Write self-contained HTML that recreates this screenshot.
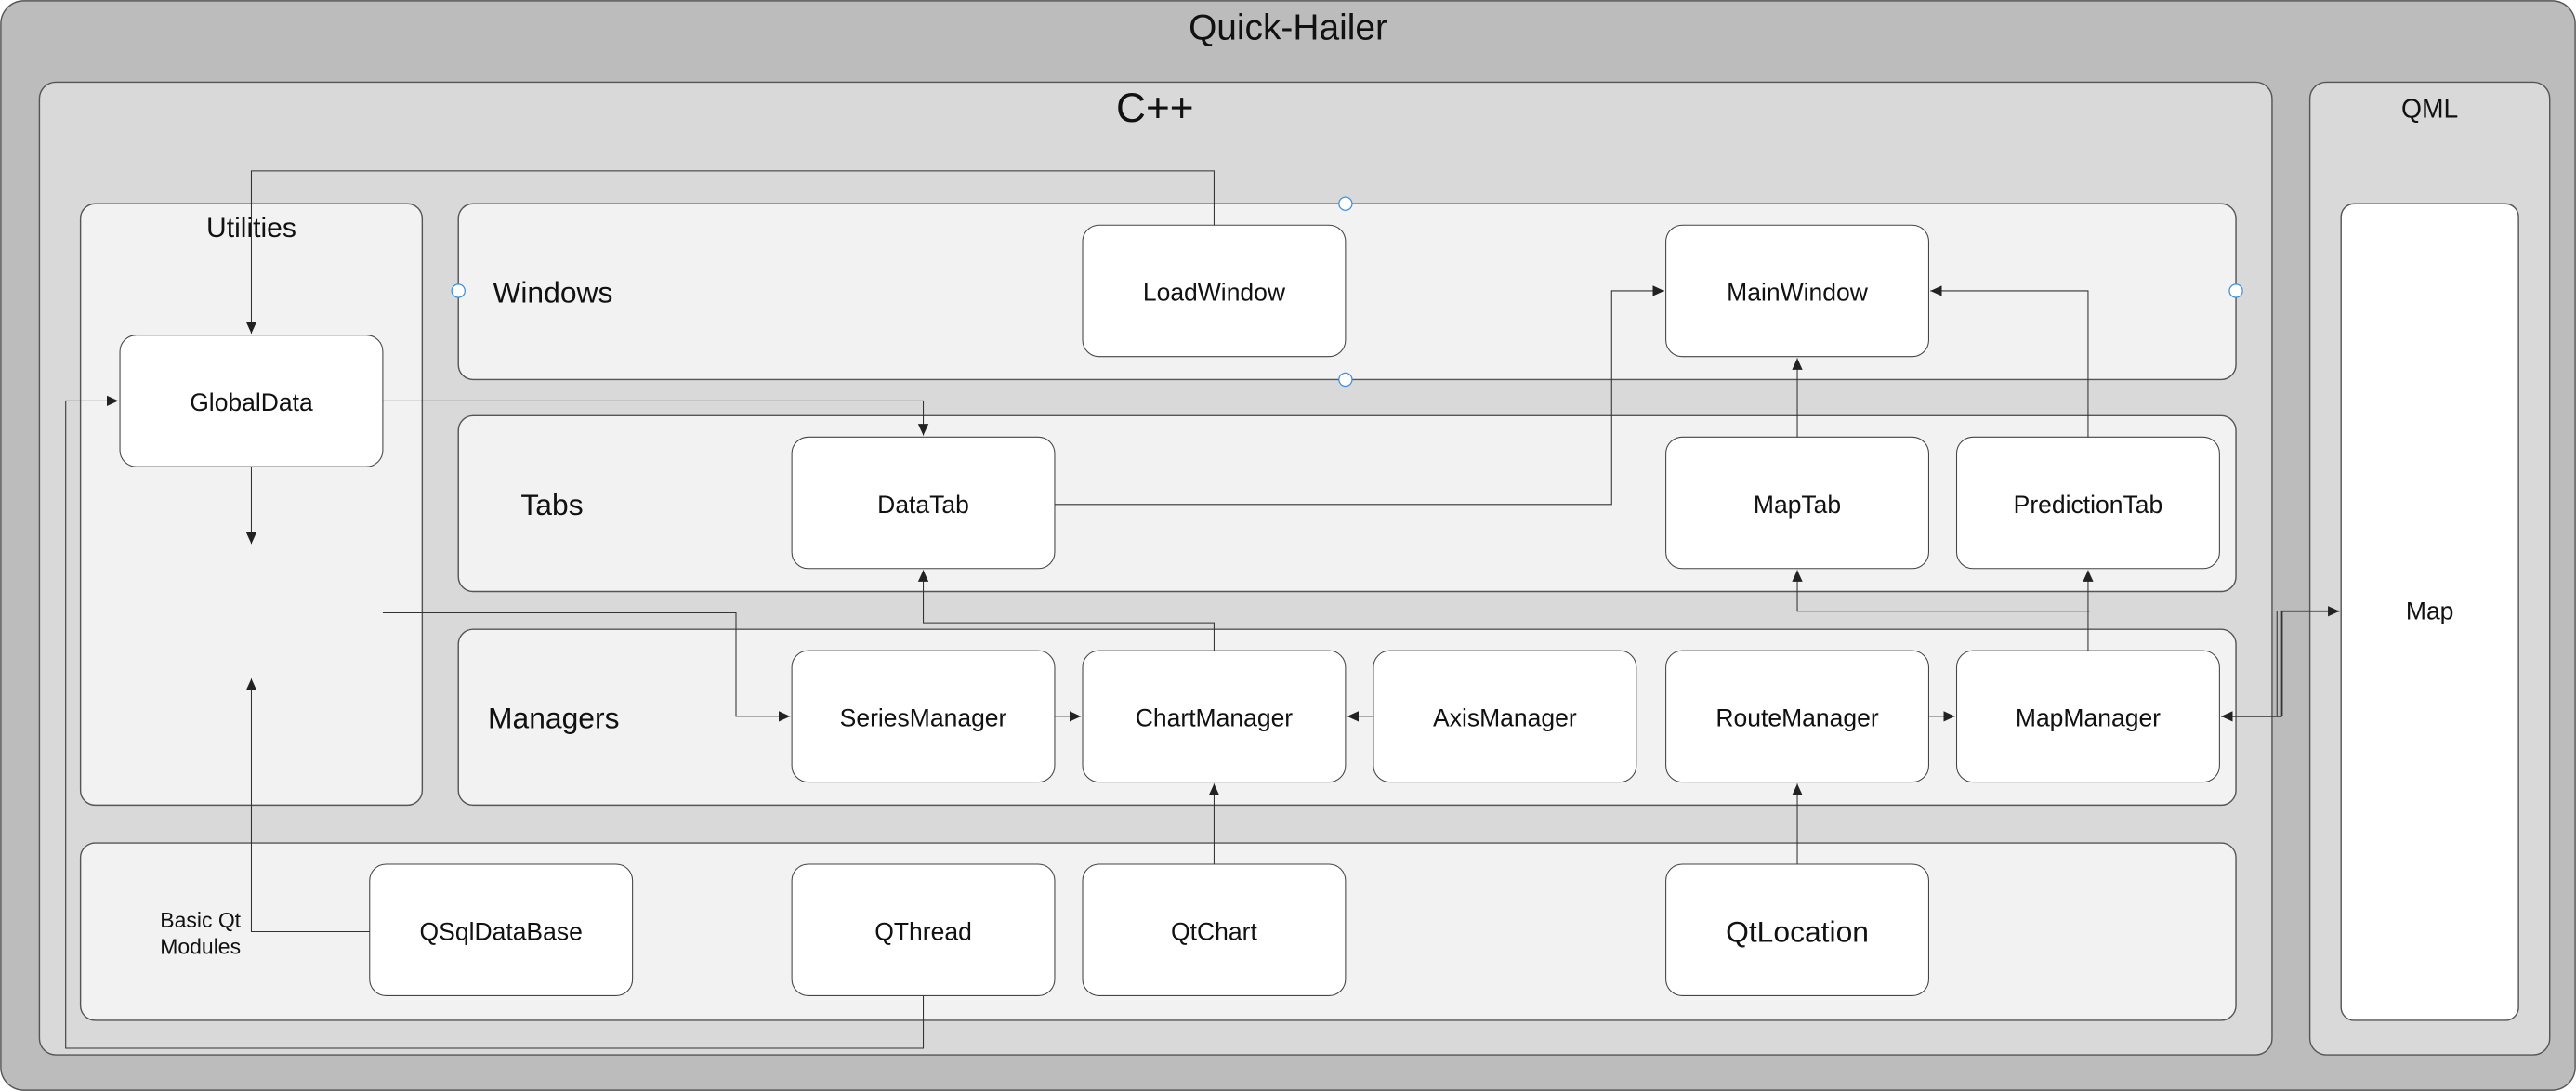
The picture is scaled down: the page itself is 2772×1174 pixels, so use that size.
<!DOCTYPE html>
<html><head><meta charset="utf-8"><style>
html,body{margin:0;padding:0;background:#fff;}
svg{display:block;}
text{font-family:"Liberation Sans",sans-serif;fill:#111;}
</style></head><body>
<svg width="2772" height="1174" viewBox="0 0 1568 664" preserveAspectRatio="none" xmlns="http://www.w3.org/2000/svg">
<defs>
<marker id="a" markerWidth="8" markerHeight="8" refX="7" refY="4" orient="auto" markerUnits="userSpaceOnUse">
<path d="M0,0.8 L7,4 L0,7.2 Z" fill="#222"/></marker>
</defs>
<g stroke="#555" stroke-width="0.8">
<rect x="0.5" y="0.5" width="1567" height="663" rx="14" fill="#bcbcbc"/>
<rect x="24" y="50" width="1359" height="592" rx="10" fill="#d9d9d9"/>
<rect x="1406" y="50" width="146" height="592" rx="10" fill="#d9d9d9"/>
<rect x="1425" y="124" width="108" height="497" rx="8" fill="#fff"/>
<rect x="49" y="124" width="208" height="366" rx="9" fill="#f2f2f2"/>
<rect x="279" y="124" width="1082" height="107" rx="9" fill="#f2f2f2"/>
<rect x="279" y="253" width="1082" height="107" rx="9" fill="#f2f2f2"/>
<rect x="279" y="383" width="1082" height="107" rx="9" fill="#f2f2f2"/>
<rect x="49" y="513" width="1312" height="108" rx="9" fill="#f2f2f2"/>
</g>
<g stroke="#444" stroke-width="0.6" fill="#fff">
<rect x="659" y="137" width="160" height="80" rx="10"/>
<rect x="1014" y="137" width="160" height="80" rx="10"/>
<rect x="73" y="204" width="160" height="80" rx="10"/>
<rect x="482" y="266" width="160" height="80" rx="10"/>
<rect x="1014" y="266" width="160" height="80" rx="10"/>
<rect x="1191" y="266" width="160" height="80" rx="10"/>
<rect x="482" y="396" width="160" height="80" rx="10"/>
<rect x="659" y="396" width="160" height="80" rx="10"/>
<rect x="836" y="396" width="160" height="80" rx="10"/>
<rect x="1014" y="396" width="160" height="80" rx="10"/>
<rect x="1191" y="396" width="160" height="80" rx="10"/>
<rect x="225" y="526" width="160" height="80" rx="10"/>
<rect x="482" y="526" width="160" height="80" rx="10"/>
<rect x="659" y="526" width="160" height="80" rx="10"/>
<rect x="1014" y="526" width="160" height="80" rx="10"/>
</g>
<g stroke="#333" stroke-width="0.6" fill="none">
<path d="M739,137 V104 H153 V203" marker-end="url(#a)"/>
<path d="M233,244 H562 V265" marker-end="url(#a)"/>
<path d="M153,284 V331" marker-end="url(#a)"/>
<path d="M233,373 H448 V436 H481" marker-end="url(#a)"/>
<path d="M225,567 H153 V413" marker-end="url(#a)"/>
<path d="M562,606 V638 H40 V244 H72" marker-end="url(#a)"/>
<path d="M642,307 H981 V177 H1013" marker-end="url(#a)"/>
<path d="M1094,266 V218" marker-end="url(#a)"/>
<path d="M1271,266 V177 H1175" marker-end="url(#a)"/>
<path d="M739,396 V379 H562 V347" marker-end="url(#a)"/>
<path d="M1271,396 V347" marker-end="url(#a)"/>
<path d="M1272,372 H1094 V347" marker-end="url(#a)"/>
<path d="M642,436 H658" marker-end="url(#a)"/>
<path d="M836,436 H820" marker-end="url(#a)"/>
<path d="M1174,436 H1190" marker-end="url(#a)"/>
<path d="M739,526 V477" marker-end="url(#a)"/>
<path d="M1094,526 V477" marker-end="url(#a)"/>
<path d="M1386,436 V372" />
<path d="M1389,436 V372 H1424" stroke-width="1" marker-end="url(#a)"/>
<path d="M1389,436 H1352" stroke-width="1" marker-end="url(#a)"/>
</g>
<g fill="#fff" stroke="#3a8ee6" stroke-width="0.7">
<circle cx="819" cy="124" r="4"/><circle cx="279" cy="177" r="4"/>
<circle cx="819" cy="231" r="4"/><circle cx="1361" cy="177" r="4"/>
</g>
<g text-anchor="middle" dominant-baseline="central">
<text x="784" y="17" font-size="22">Quick-Hailer</text>
<text x="703" y="66" font-size="25">C++</text>
<text x="1479" y="66" font-size="16">QML</text>
<text x="153" y="139" font-size="17">Utilities</text>
<text x="1479" y="372" font-size="15">Map</text>
<g font-size="15">
<text x="739" y="178">LoadWindow</text>
<text x="1094" y="178">MainWindow</text>
<text x="153" y="245">GlobalData</text>
<text x="562" y="307">DataTab</text>
<text x="1094" y="307">MapTab</text>
<text x="1271" y="307">PredictionTab</text>
<text x="562" y="437">SeriesManager</text>
<text x="739" y="437">ChartManager</text>
<text x="916" y="437">AxisManager</text>
<text x="1094" y="437">RouteManager</text>
<text x="1271" y="437">MapManager</text>
<text x="305" y="567">QSqlDataBase</text>
<text x="562" y="567">QThread</text>
<text x="739" y="567">QtChart</text>
</g>
<text x="1094" y="567" font-size="18">QtLocation</text>
<text x="122" y="560" font-size="13">Basic Qt</text>
<text x="122" y="576" font-size="13">Modules</text>
</g>
<g dominant-baseline="central" font-size="18">
<text x="300" y="178">Windows</text>
<text x="317" y="307">Tabs</text>
<text x="297" y="437">Managers</text>
</g>
</svg>
</body></html>
